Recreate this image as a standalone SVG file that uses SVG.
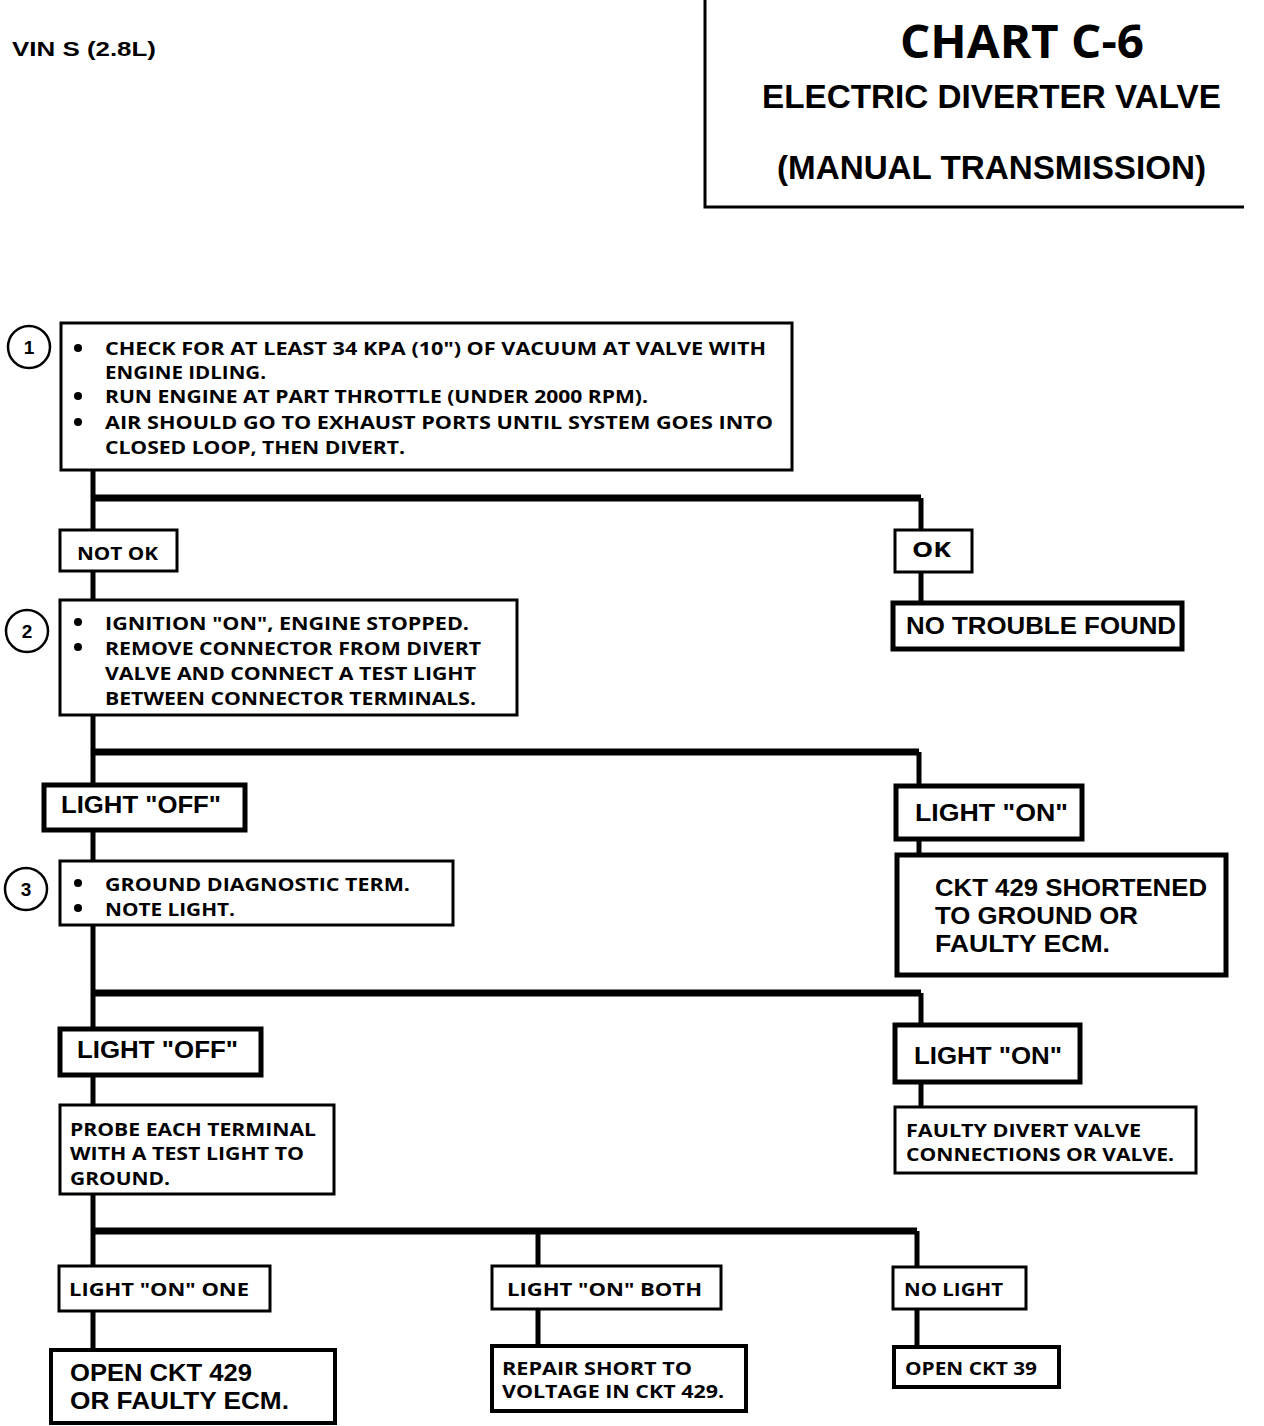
<svg xmlns="http://www.w3.org/2000/svg" width="1264" height="1426" viewBox="0 0 1264 1426">
<style>
.bx{fill:#fff;stroke:#000;stroke-width:3}
.bk{fill:#fff;stroke:#000;stroke-width:5}
.s{font-family:"Open Sans","Noto Sans",sans-serif;font-weight:bold;font-size:18px;fill:#000}
.l{font-family:"Liberation Sans",Arial,sans-serif;font-weight:bold;font-size:24px;fill:#000}
.n{font-family:"Liberation Sans",Arial,sans-serif;font-weight:bold;font-size:19px;fill:#000;text-anchor:middle}
.c{fill:#fff;stroke:#000;stroke-width:2.5}
.v{stroke:#000;stroke-width:5;fill:none}
.h{stroke:#000;stroke-width:7;fill:none}
</style>
<g id="header">
<text x="12" y="56" class="l" style="font-size:21px" textLength="144" lengthAdjust="spacingAndGlyphs">VIN S (2.8L)</text>
<path d="M705 0 V207 H1244" fill="none" stroke="#000" stroke-width="3"/>
<text x="900" y="58" class="s" style="font-size:46px" textLength="244" lengthAdjust="spacingAndGlyphs">CHART C-6</text>
<text x="762" y="108" class="l" style="font-size:33px" textLength="459" lengthAdjust="spacingAndGlyphs">ELECTRIC DIVERTER VALVE</text>
<text x="777" y="179" class="l" style="font-size:33px" textLength="429" lengthAdjust="spacingAndGlyphs">(MANUAL TRANSMISSION)</text>
</g>
<g id="connectors">
<path class="v" d="M93 470 V530"/>
<path class="h" d="M93 498 H921"/>
<path class="v" d="M921 498 V530"/>
<path class="v" d="M921 572 V603"/>
<path class="v" d="M93 571 V600"/>
<path class="v" d="M93 715 V785"/>
<path class="h" d="M93 752 H919"/>
<path class="v" d="M919 752 V786"/>
<path class="v" d="M919 839 V855"/>
<path class="v" d="M93 830 V861"/>
<path class="v" d="M93 925 V1029"/>
<path class="h" d="M93 993 H921"/>
<path class="v" d="M921 993 V1025"/>
<path class="v" d="M921 1082 V1107"/>
<path class="v" d="M93 1075 V1105"/>
<path class="v" d="M93 1194 V1266"/>
<path class="h" d="M93 1231 H917"/>
<path class="v" d="M538 1231 V1266"/>
<path class="v" d="M917 1231 V1267"/>
<path class="v" d="M93 1311 V1350"/>
<path class="v" d="M538 1309 V1346"/>
<path class="v" d="M917 1309 V1347"/>
</g>
<g id="step1">
<circle class="c" cx="29" cy="347" r="21"/>
<text x="29" y="354" class="n">1</text>
<rect class="bx" x="61" y="323" width="731" height="147"/>
<circle cx="78" cy="348" r="4"/><circle cx="78" cy="396" r="4"/><circle cx="78" cy="422" r="4"/>
<text x="105" y="355" class="s" textLength="661" lengthAdjust="spacingAndGlyphs">CHECK FOR AT LEAST 34 KPA (10") OF VACUUM AT VALVE WITH</text>
<text x="105" y="379" class="s" textLength="161" lengthAdjust="spacingAndGlyphs">ENGINE IDLING.</text>
<text x="105" y="403" class="s" textLength="543" lengthAdjust="spacingAndGlyphs">RUN ENGINE AT PART THROTTLE (UNDER 2000 RPM).</text>
<text x="105" y="429" class="s" textLength="668" lengthAdjust="spacingAndGlyphs">AIR SHOULD GO TO EXHAUST PORTS UNTIL SYSTEM GOES  INTO</text>
<text x="105" y="454" class="s" textLength="300" lengthAdjust="spacingAndGlyphs">CLOSED LOOP, THEN DIVERT.</text>
</g>
<g id="notok1">
<rect class="bx" x="60" y="530" width="117" height="41"/>
<text x="77" y="560" class="s" textLength="81" lengthAdjust="spacingAndGlyphs">NOT OK</text>
</g>
<g id="ok1">
<rect class="bx" x="895" y="530" width="77" height="42"/>
<text x="912" y="557" class="s" style="font-size:21px" textLength="39" lengthAdjust="spacingAndGlyphs">OK</text>
</g>
<g id="ntf">
<rect class="bk" x="893" y="603" width="289" height="46"/>
<text x="906" y="634" class="l" textLength="270" lengthAdjust="spacingAndGlyphs">NO TROUBLE FOUND</text>
</g>
<g id="step2">
<circle class="c" cx="27" cy="631" r="21"/>
<text x="27" y="638" class="n">2</text>
<rect class="bx" x="60" y="600" width="457" height="115"/>
<circle cx="78" cy="622" r="4"/><circle cx="78" cy="647" r="4"/>
<text x="105" y="630" class="s" textLength="364" lengthAdjust="spacingAndGlyphs">IGNITION  "ON", ENGINE STOPPED.</text>
<text x="105" y="655" class="s" textLength="376" lengthAdjust="spacingAndGlyphs">REMOVE CONNECTOR FROM DIVERT</text>
<text x="105" y="680" class="s" textLength="371" lengthAdjust="spacingAndGlyphs">VALVE AND CONNECT A TEST LIGHT</text>
<text x="105" y="705" class="s" textLength="371" lengthAdjust="spacingAndGlyphs">BETWEEN CONNECTOR TERMINALS.</text>
</g>
<g id="off1">
<rect class="bk" x="44" y="785" width="201" height="45"/>
<text x="61" y="813" class="l" textLength="160" lengthAdjust="spacingAndGlyphs">LIGHT "OFF"</text>
</g>
<g id="on1">
<rect class="bk" x="896" y="786" width="186" height="53"/>
<text x="915" y="821" class="l" textLength="153" lengthAdjust="spacingAndGlyphs">LIGHT "ON"</text>
</g>
<g id="ckt429short">
<rect class="bk" x="897" y="855" width="329" height="120"/>
<text x="935" y="896" class="l" textLength="272" lengthAdjust="spacingAndGlyphs">CKT 429 SHORTENED</text>
<text x="935" y="924" class="l" textLength="203" lengthAdjust="spacingAndGlyphs">TO GROUND OR</text>
<text x="935" y="952" class="l" textLength="175" lengthAdjust="spacingAndGlyphs">FAULTY ECM.</text>
</g>
<g id="step3">
<circle class="c" cx="26" cy="889" r="21"/>
<text x="26" y="896" class="n">3</text>
<rect class="bx" x="60" y="861" width="393" height="64"/>
<circle cx="78" cy="883" r="4"/><circle cx="78" cy="908" r="4"/>
<text x="105" y="891" class="s" textLength="305" lengthAdjust="spacingAndGlyphs">GROUND DIAGNOSTIC  TERM.</text>
<text x="105" y="916" class="s" textLength="130" lengthAdjust="spacingAndGlyphs">NOTE LIGHT.</text>
</g>
<g id="off2">
<rect class="bk" x="60" y="1029" width="201" height="46"/>
<text x="77" y="1058" class="l" textLength="161" lengthAdjust="spacingAndGlyphs">LIGHT "OFF"</text>
</g>
<g id="on2">
<rect class="bk" x="895" y="1025" width="185" height="57"/>
<text x="914" y="1064" class="l" textLength="148" lengthAdjust="spacingAndGlyphs">LIGHT "ON"</text>
</g>
<g id="faultyvalve">
<rect class="bx" x="895" y="1107" width="301" height="66"/>
<text x="906" y="1137" class="s" textLength="235" lengthAdjust="spacingAndGlyphs">FAULTY DIVERT VALVE</text>
<text x="906" y="1161" class="s" textLength="268" lengthAdjust="spacingAndGlyphs">CONNECTIONS OR VALVE.</text>
</g>
<g id="probe">
<rect class="bx" x="60" y="1105" width="274" height="89"/>
<text x="70" y="1136" class="s" textLength="246" lengthAdjust="spacingAndGlyphs">PROBE EACH TERMINAL</text>
<text x="70" y="1160" class="s" textLength="234" lengthAdjust="spacingAndGlyphs">WITH A TEST LIGHT TO</text>
<text x="70" y="1185" class="s" textLength="100" lengthAdjust="spacingAndGlyphs">GROUND.</text>
</g>
<g id="onone">
<rect class="bx" x="59" y="1266" width="211" height="45"/>
<text x="69" y="1296" class="s" textLength="180" lengthAdjust="spacingAndGlyphs">LIGHT  "ON" ONE</text>
</g>
<g id="onboth">
<rect class="bx" x="492" y="1266" width="229" height="43"/>
<text x="507" y="1296" class="s" textLength="195" lengthAdjust="spacingAndGlyphs">LIGHT  "ON" BOTH</text>
</g>
<g id="nolight">
<rect class="bx" x="893" y="1267" width="133" height="42"/>
<text x="904" y="1296" class="s" textLength="99" lengthAdjust="spacingAndGlyphs">NO LIGHT</text>
</g>
<g id="openckt429">
<rect class="bk" x="51" y="1350" width="284" height="73" style="stroke-width:4"/>
<text x="70" y="1381" class="l" textLength="182" lengthAdjust="spacingAndGlyphs">OPEN CKT 429</text>
<text x="70" y="1409" class="l" textLength="219" lengthAdjust="spacingAndGlyphs">OR FAULTY ECM.</text>
</g>
<g id="repair">
<rect class="bk" x="492" y="1346" width="254" height="65" style="stroke-width:4"/>
<text x="502" y="1375" class="s" textLength="190" lengthAdjust="spacingAndGlyphs">REPAIR  SHORT TO</text>
<text x="502" y="1398" class="s" textLength="222" lengthAdjust="spacingAndGlyphs">VOLTAGE IN CKT 429.</text>
</g>
<g id="openckt39">
<rect class="bk" x="894" y="1347" width="165" height="40" style="stroke-width:4"/>
<text x="905" y="1375" class="s" textLength="132" lengthAdjust="spacingAndGlyphs">OPEN CKT 39</text>
</g>
</svg>
